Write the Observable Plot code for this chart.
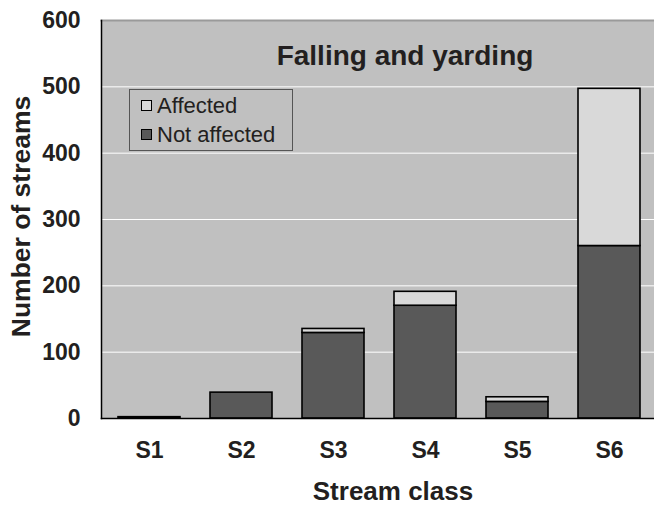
<!DOCTYPE html>
<html>
<head>
<meta charset="utf-8">
<script src="https://cdn.jsdelivr.net/npm/d3@7"></script>
<script src="https://cdn.jsdelivr.net/npm/@observablehq/plot@0.6"></script>
<style>
  body { margin: 0; background: #fff; font-family: "Liberation Sans", Arial, sans-serif; }
  #wrap { position: relative; width: 654px; height: 506px; overflow: hidden; }
  #legend { position: absolute; left: 129px; top: 89px; width: 164px; height: 62px;
    border: 1px solid #555; background: #c0c0c0; color: #231f20; font-size: 22px; line-height: 29px; box-sizing: border-box; padding-top: 1px; }
  #legend .row { display: flex; align-items: center; height: 29px; padding-left: 11px; }
  #legend .sw { width: 9px; height: 9px; border: 1px solid #000; margin-right: 5px; }
</style>
</head>
<body>
<div id="wrap"></div>
<script>
const classes = ["S1", "S2", "S3", "S4", "S5", "S6"];
const notAffected = [2, 39, 129, 170, 25, 260];
const affected = [0, 0, 6, 21, 7, 237];
const statuses = ["Not affected", "Affected"];
const statusColors = ["#595959", "#d9d9d9"];
const yTicks = [0, 100, 200, 300, 400, 500, 600];
const gridTicks = [100, 200, 300, 400, 500];
const title = "Falling and yarding";
const xTitle = "Stream class";
const yTitle = "Number of streams";

const rows = [];
classes.forEach((c, i) => {
  rows.push({cls: c, status: "Not affected", value: notAffected[i]});
  rows.push({cls: c, status: "Affected", value: affected[i]});
});

const ink = "#231f20";
const chart = Plot.plot({
  width: 654,
  height: 506,
  marginLeft: 101,
  marginRight: 0,
  marginTop: 20,
  marginBottom: 88,
  style: {fontFamily: "'Liberation Sans', Arial, sans-serif", color: ink, background: "#fff"},
  x: {domain: classes, range: [101, 657], paddingInner: 0.327, paddingOuter: 0.1635, align: 0.5},
  y: {domain: [0, 600]},
  color: {domain: statuses, range: statusColors},
  marks: [
    Plot.frame({fill: "#c0c0c0", stroke: "none"}),
    Plot.gridY(gridTicks, {stroke: "#ffffff", strokeOpacity: 1, strokeWidth: 1}),
    Plot.frame({anchor: "top", stroke: "#9a9a9a", strokeWidth: 2}),
    Plot.barY(rows, {x: "cls", y: "value", fill: "status", order: statuses, stroke: "#000", strokeWidth: 1.6}),
    Plot.frame({anchor: "left", stroke: "#000", strokeWidth: 1.5}),
    Plot.frame({anchor: "bottom", stroke: "#000", strokeWidth: 1.5}),
    Plot.axisY(yTicks, {tickSize: 0, tickPadding: 21, fontSize: 23, fontWeight: "bold", label: null, fill: ink}),
    Plot.axisX({tickSize: 0, tickPadding: 23, fontSize: 23, fontWeight: "bold", label: null, fill: ink}),
    Plot.text([title], {frameAnchor: "top", dx: 27, dy: 36, fontSize: 28, fontWeight: "bold", fill: ink, lineAnchor: "middle"}),
    Plot.text([xTitle], {frameAnchor: "bottom", dx: 15, dy: 73, fontSize: 26, fontWeight: "bold", fill: ink, lineAnchor: "middle"}),
    Plot.text([yTitle], {frameAnchor: "left", textAnchor: "middle", dx: -80, dy: -3, rotate: -90, fontSize: 26.5, fontWeight: "bold", fill: ink, lineAnchor: "middle"})
  ]
});

const wrap = document.getElementById("wrap");
wrap.appendChild(chart);

const legend = document.createElement("div");
legend.id = "legend";
["Affected", "Not affected"].forEach(s => {
  const row = document.createElement("div");
  row.className = "row";
  const sw = document.createElement("div");
  sw.className = "sw";
  sw.style.background = statusColors[statuses.indexOf(s)];
  const t = document.createElement("span");
  t.textContent = s;
  row.appendChild(sw);
  row.appendChild(t);
  legend.appendChild(row);
});
wrap.appendChild(legend);
</script>
</body>
</html>
